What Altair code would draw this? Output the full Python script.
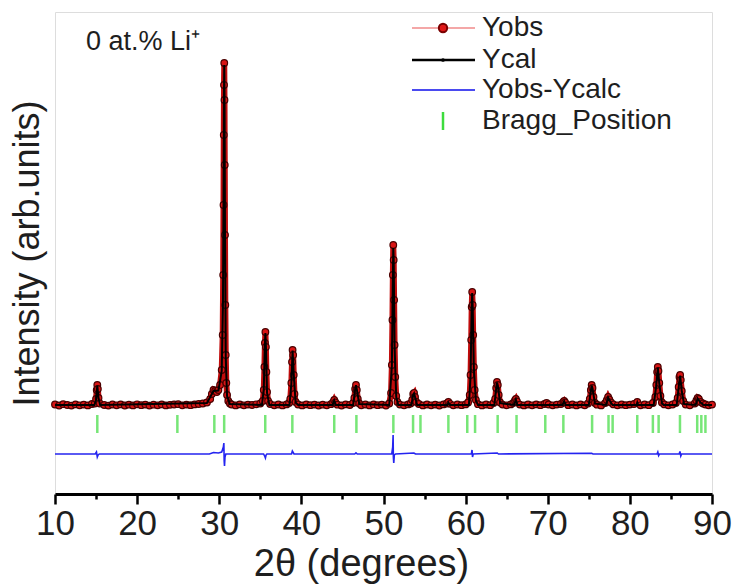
import altair as alt
import pandas as pd

# ---------------- data ----------------
# observed pattern (2theta, intensity in arbitrary units)
obs_theta = [
    10.0, 10.5, 11.0, 11.5, 12.0, 12.5, 13.0, 13.5, 14.0, 14.5,
    14.85, 15.0, 15.08, 15.15, 15.22, 15.3, 15.45,
    16.0, 16.5, 17.0, 17.5, 18.0, 18.5, 19.0, 19.5, 20.0, 20.5, 21.0, 21.5, 22.0,
    22.5, 23.0, 23.5, 24.0, 24.5, 25.0, 25.5, 26.0, 26.5, 27.0, 27.5, 28.0, 28.5,
    28.9, 29.1, 29.3, 29.5, 29.7, 29.9, 30.1, 30.3,
    30.42, 30.48, 30.52, 30.55, 30.58, 30.61, 30.64, 30.67, 30.70, 30.74, 30.79, 30.86, 30.95, 31.1, 31.3,
    31.5, 32.0, 32.5, 33.0, 33.5, 34.0, 34.5, 35.0,
    35.3, 35.42, 35.5, 35.56, 35.62, 35.68, 35.74, 35.82, 35.95,
    36.2, 36.7, 37.2, 37.7, 38.2, 38.5,
    38.65, 38.78, 38.86, 38.93, 39.0, 39.07, 39.16, 39.3,
    39.6, 40.1, 40.6, 41.1, 41.6, 42.1, 42.6, 43.1, 43.6,
    43.85, 44.0, 44.15,
    44.4, 44.9, 45.4, 45.9, 46.3,
    46.45, 46.55, 46.65, 46.75, 46.87, 47.05,
    47.3, 47.8, 48.3, 48.8, 49.3, 49.8, 50.3, 50.7,
    50.92, 51.02, 51.09, 51.14, 51.19, 51.24, 51.29, 51.35, 51.43, 51.55, 51.7,
    52.0, 52.5, 53.0, 53.3,
    53.5, 53.62, 53.72, 53.84, 54.0,
    54.3, 54.8, 55.3, 55.8, 56.3, 56.8, 57.3, 57.7,
    57.9, 58.1,
    58.5, 59.0, 59.5, 60.0, 60.3,
    60.5, 60.6, 60.68, 60.74, 60.8, 60.86, 60.92, 61.0, 61.1, 61.25,
    61.5, 62.0, 62.5, 63.0, 63.4,
    63.6, 63.72, 63.82, 63.92, 64.03, 64.2,
    64.5, 65.0, 65.5, 65.8,
    66.0, 66.12, 66.25,
    66.6, 67.1, 67.6, 68.1, 68.6, 69.1, 69.6, 69.85, 70.1, 70.6, 71.1, 71.6,
    71.9, 72.0, 72.12,
    72.5, 73.0, 73.5, 74.0, 74.5, 74.9,
    75.12, 75.25, 75.35, 75.45, 75.57, 75.75,
    76.0, 76.5, 77.0,
    77.2, 77.35, 77.5, 77.7,
    78.0, 78.5, 79.0, 79.5, 80.0, 80.5,
    80.9,
    81.3, 81.8, 82.3, 82.8,
    83.1, 83.22, 83.32, 83.4, 83.48, 83.58, 83.72, 83.9,
    84.2, 84.7, 85.2, 85.6,
    85.82, 85.94, 86.04, 86.12, 86.2, 86.32, 86.5,
    86.8, 87.3, 87.9,
    88.1, 88.25, 88.4, 88.6, 88.9,
    89.2, 89.6, 90.0,
]
obs_int = [
    5, -5, 8, 0, -6, 6, -3, 4, -4, 10,
    15, 60, 150, 200, 160, 70, 15,
    0, -6, 5, -3, 6, -5, 3, -4, 7, -2, 4, -6, 3,
    -3, 6, -4, 2, 5, 8, -3, 4, -2, 6, 10, 15, 25,
    60, 110, 150, 140, 130, 150, 200, 350,
    700, 1300, 2000, 2700, 3200, 3420, 3050, 2400, 1700, 1000, 500, 220, 100, 40, 15,
    5, -4, 6, -3, 4, 0, 7, 15,
    40, 150, 380, 620, 730, 580, 330, 130, 40,
    10, -3, 5, -4, 6, 20,
    60, 220, 430, 550, 500, 300, 110, 30,
    5, -4, 6, -2, 4, -5, 3, -3, 8,
    25, 50, 25,
    3, -5, 6, 0, 20,
    70, 160, 200, 150, 60, 15,
    -3, 5, -4, 6, -2, 4, -5, 15,
    120, 400, 850, 1300, 1600, 1450, 1050, 600, 280, 90, 30,
    4, -3, 6, 15,
    50, 110, 120, 80, 30,
    10, -4, 5, -3, 4, -5, 6, 15,
    30, 12,
    -3, 5, -2, 6, 25,
    100, 300, 650, 980, 1130, 1000, 700, 380, 150, 50,
    8, -4, 5, -2, 20,
    60, 170, 230, 200, 100, 25,
    4, -3, 6, 20,
    45, 60, 35,
    4, -4, 5, -3, 6, -2, 10, 20, 5, -3, 4, 10,
    30, 40, 25,
    -2, 5, -4, 6, -3, 15,
    60, 150, 200, 170, 80, 20,
    3, -4, 20,
    50, 80, 55, 25,
    6, -3, 5, -2, 4, 10,
    30,
    -3, 5, -2, 20,
    80, 200, 330, 380, 340, 220, 90, 25,
    6, -3, 5, 20,
    70, 180, 280, 300, 250, 140, 40,
    4, -3, 15,
    45, 70, 60, 30, 15,
    5, -3, 4,
]

# calculated pattern
cal_theta = [
    10.0, 14.8, 15.0, 15.15, 15.3, 15.5,
    28.5, 29.3, 29.9, 30.3, 30.45, 30.52, 30.58, 30.61, 30.64, 30.70, 30.79, 30.95, 31.3,
    35.2, 35.42, 35.56, 35.62, 35.68, 35.82, 36.1,
    38.55, 38.78, 38.93, 39.07, 39.3, 39.6,
    43.8, 44.0, 44.2,
    46.3, 46.55, 46.65, 46.75, 47.05,
    50.7, 51.02, 51.14, 51.19, 51.24, 51.35, 51.55, 51.8,
    53.4, 53.62, 53.72, 53.84, 54.1,
    57.8, 57.9, 58.1,
    60.4, 60.6, 60.74, 60.8, 60.86, 61.0, 61.25, 61.5,
    63.5, 63.72, 63.82, 63.92, 64.2,
    65.9, 66.12, 66.3,
    71.8, 72.0, 72.2,
    75.0, 75.25, 75.35, 75.45, 75.75,
    77.1, 77.35, 77.7, 77.9,
    80.8, 80.9, 81.0,
    82.9, 83.22, 83.4, 83.58, 83.9, 84.1,
    85.7, 85.94, 86.12, 86.32, 86.6,
    88.0, 88.25, 88.6, 89.0, 90.0,
]
cal_int = [
    0, 0, 55, 195, 65, 0,
    20, 140, 145, 340, 1000, 2050, 3150, 3400, 3100, 1750, 480, 90, 10,
    0, 160, 610, 720, 590, 120, 0,
    0, 210, 545, 310, 25, 0,
    0, 45, 0,
    0, 155, 198, 155, 10,
    0, 390, 1280, 1570, 1460, 590, 80, 0,
    0, 105, 118, 80, 0,
    0, 25, 0,
    0, 290, 990, 1120, 990, 370, 45, 0,
    0, 165, 225, 195, 20,
    0, 55, 0,
    0, 38, 0,
    0, 145, 195, 165, 15,
    0, 75, 20, 0,
    0, 25, 0,
    0, 195, 375, 215, 20, 0,
    0, 175, 295, 135, 10,
    0, 65, 25, 0, 0,
]

# difference curve (Yobs - Ycalc, shifted below the pattern)
diff_theta = [
    10.0, 14.9, 15.05, 15.15, 15.25, 15.4,
    28.8, 29.3, 29.9, 30.3, 30.5, 30.56, 30.6, 30.64, 30.7, 30.8,
    35.4, 35.55, 35.62, 35.7, 35.8,
    38.8, 38.9, 39.0, 39.1,
    46.5, 46.65, 46.8,
    51.0, 51.12, 51.17, 51.2, 51.25, 51.32, 51.45,
    53.7, 53.9,
    60.7, 60.78, 60.84, 60.92,
    63.85, 64.0,
    75.35, 75.5,
    83.3, 83.4, 83.5, 83.6,
    86.0, 86.1, 86.2, 86.3,
    90.0,
]
diff_int = [
    -490, -490, -470, -520, -500, -490,
    -490, -475, -480, -470, -420, -380, -560, -610, -520, -490,
    -490, -515, -530, -500, -490,
    -490, -460, -475, -490,
    -490, -478, -490,
    -490, -420, -300, -520, -580, -500, -490,
    -480, -490,
    -490, -450, -520, -490,
    -480, -490,
    -482, -490,
    -490, -470, -505, -490,
    -490, -465, -510, -490,
    -490,
]

# Bragg reflection positions
bragg_theta = [
    15.15, 24.9, 29.4, 30.6, 35.6, 38.9, 44.0, 46.7, 51.2, 53.6,
    54.5, 57.9, 60.2, 61.15, 63.9, 66.2, 69.7, 71.9, 75.4, 77.4,
    77.9, 80.9, 82.8, 83.5, 86.1, 88.2, 88.7, 89.2,
]

x_ticks = [10, 15, 20, 25, 30, 35, 40, 45, 50, 55, 60, 65, 70, 75, 80, 85, 90]
legend_labels = ["Yobs", "Ycal", "Yobs-Ycalc", "Bragg_Position"]
sample_label = "0 at.% Li\u207a"

assert len(obs_theta) == len(obs_int)
assert len(cal_theta) == len(cal_int)
assert len(diff_theta) == len(diff_int)

obs_df = pd.DataFrame({"t": obs_theta, "i": obs_int})
cal_df = pd.DataFrame({"t": cal_theta, "i": cal_int})
diff_df = pd.DataFrame({"t": diff_theta, "i": diff_int})
bragg_df = pd.DataFrame({"t": bragg_theta})

FONT = "Liberation Sans"
TXT = "#1e1e1e"

x_scale = alt.Scale(domain=[10, 90], nice=False, zero=False)
y_scale = alt.Scale(domain=[-890, 3930], nice=False, zero=False)

x_axis = alt.Axis(
    values=x_ticks,
    labelExpr="datum.value % 10 === 0 ? datum.label : ''",
    tickSize={"condition": {"test": "datum.value % 10 === 0", "value": 10}, "value": 5},
    tickWidth=2.5, tickColor="black",
    domainWidth=3, domainColor="black",
    labelFontSize=35, labelFont=FONT, labelColor=TXT, labelPadding=2,
    labelFlush=False, labelOverlap=False,
    grid=False,
    title="2\u03b8 (degrees)", titleFontSize=38, titleFont=FONT,
    titleFontWeight="normal", titleColor=TXT, titlePadding=4,
    titleX=306, titleAnchor="start", titleAlign="center",
)
y_axis = alt.Axis(
    ticks=False, labels=False, domain=False, grid=False,
    title="Intensity (arb.units)", titleFontSize=36, titleFont=FONT,
    titleFontWeight="normal", titleColor=TXT, titlePadding=9,
)

X = alt.X("t:Q", scale=x_scale, axis=x_axis)
Y = alt.Y("i:Q", scale=y_scale, axis=y_axis)

obs_line = alt.Chart(obs_df).mark_line(color="#c00c0c", strokeWidth=6).encode(
    x=X, y=Y, order="t:Q")
obs_pts = alt.Chart(obs_df).mark_point(
    filled=True, fill="#d81414", stroke="#4a0000", strokeWidth=1.2, size=44, opacity=1
).encode(x="t:Q", y="i:Q")
cal_line = alt.Chart(cal_df).mark_line(color="black", strokeWidth=2).encode(
    x="t:Q", y="i:Q", order="t:Q")
diff_line = alt.Chart(diff_df).mark_line(color="#2424f0", strokeWidth=1.6).encode(
    x="t:Q", y="i:Q", order="t:Q")
bragg = alt.Chart(bragg_df).mark_tick(
    color="#3ddc3d", thickness=2.5, size=18, orient="vertical"
).encode(x="t:Q", y=alt.datum(-190))

one = pd.DataFrame({"a": [0]})

def lrule(x1, x2, y, color, w):
    return alt.Chart(one).mark_rule(color=color, strokeWidth=w).encode(
        x=alt.value(x1), x2=alt.value(x2), y=alt.value(y))

def ltext(txt, x, y, size):
    return alt.Chart(one).mark_text(
        align="left", baseline="middle", fontSize=size, font=FONT, color=TXT
    ).encode(x=alt.value(x), y=alt.value(y), text=alt.value(txt))

LX1, LX2, TX = 357, 420, 427
rows = [16, 48, 78, 109]
leg = [
    lrule(LX1, LX2, rows[0], "#f08a8a", 1.5),
    alt.Chart(one).mark_point(filled=True, fill="#e01818", stroke="#7a0000",
                              size=70, opacity=1).encode(
        x=alt.value(388), y=alt.value(rows[0])),
    lrule(LX1, LX2, rows[1], "black", 2.5),
    alt.Chart(one).mark_point(filled=True, fill="black", size=14, opacity=1).encode(
        x=alt.value(388), y=alt.value(rows[1])),
    lrule(LX1, LX2, rows[2], "#4a4af0", 2),
    alt.Chart(one).mark_rule(color="#3ddc3d", strokeWidth=2.5).encode(
        x=alt.value(388), y=alt.value(rows[3] - 9), y2=alt.value(rows[3] + 9)),
]
for lab, ry in zip(legend_labels, rows):
    leg.append(ltext(lab, TX, ry, 28))
leg.append(ltext(sample_label, 31, 30, 27))

chart = alt.layer(obs_line, obs_pts, cal_line, diff_line, bragg, *leg).properties(
    width=657, height=482,
    autosize=alt.AutoSizeParams(type="none"),
    padding={"left": 55, "top": 12, "right": 23, "bottom": 90},
).configure_view(stroke="black", strokeWidth=3).configure(background="white")

chart.save("out.html", embed_options={"renderer": "svg", "actions": False})
